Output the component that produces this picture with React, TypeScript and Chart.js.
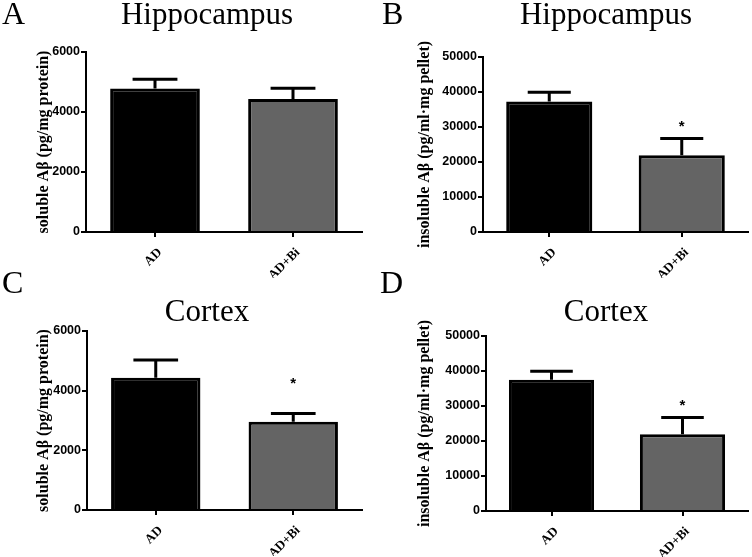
import React, { useEffect, useRef } from "react";
import { Chart, registerables } from "chart.js";

Chart.register(...registerables);

const categories = ["AD", "AD+Bi"];

const hippoSoluble = [4780, 4430];
const hippoSolubleErr = [310, 365];
const hippoSolubleStar: (number | null)[] = [null, null];

const hippoInsoluble = [37300, 21900];
const hippoInsolubleErr = [2600, 4850];
const hippoInsolubleStar: (number | null)[] = [null, 31300];

const cortexSoluble = [4430, 2955];
const cortexSolubleErr = [600, 280];
const cortexSolubleStar: (number | null)[] = [null, 4350];

const cortexInsoluble = [37500, 21900];
const cortexInsolubleErr = [2400, 4850];
const cortexInsolubleStar: (number | null)[] = [null, 31100];

const solubleTicks = [0, 2000, 4000, 6000];
const insolubleTicks = [0, 10000, 20000, 30000, 40000, 50000];

const barColors = ["#000000", "#646464"];

const CW = 376;
const CH = 290;
const XH = 46;

type Panel = {
  letter: string;
  title: string;
  yLabel: string;
  values: number[];
  errs: number[];
  stars: (number | null)[];
  ticks: number[];
  ox: number;
  oy: number;
  L: number;
  R: number;
  T: number;
  B: number;
  yW: number;
  titleX: number;
  titleY: number;
  letterX: number;
  letterY: number;
};

const panels: Panel[] = [
  {
    letter: "A", title: "Hippocampus", yLabel: "soluble A\u03b2 (pg/mg protein)",
    values: hippoSoluble, errs: hippoSolubleErr, stars: hippoSolubleStar, ticks: solubleTicks,
    ox: 0, oy: 0, L: 86, R: 362, T: 52, B: 232, yW: 52,
    titleX: 207, titleY: 24, letterX: 2, letterY: 24,
  },
  {
    letter: "B", title: "Hippocampus", yLabel: "insoluble A\u03b2 (pg/ml\u00b7mg pellet)",
    values: hippoInsoluble, errs: hippoInsolubleErr, stars: hippoInsolubleStar, ticks: insolubleTicks,
    ox: 376, oy: 0, L: 483, R: 748, T: 57, B: 232, yW: 68,
    titleX: 606, titleY: 24, letterX: 382, letterY: 24,
  },
  {
    letter: "C", title: "Cortex", yLabel: "soluble A\u03b2 (pg/mg protein)",
    values: cortexSoluble, errs: cortexSolubleErr, stars: cortexSolubleStar, ticks: solubleTicks,
    ox: 0, oy: 267, L: 87, R: 362, T: 331, B: 510, yW: 53,
    titleX: 207, titleY: 321, letterX: 2, letterY: 293,
  },
  {
    letter: "D", title: "Cortex", yLabel: "insoluble A\u03b2 (pg/ml\u00b7mg pellet)",
    values: cortexInsoluble, errs: cortexInsolubleErr, stars: cortexInsolubleStar, ticks: insolubleTicks,
    ox: 376, oy: 267, L: 486, R: 748, T: 336, B: 511, yW: 71,
    titleX: 606, titleY: 321, letterX: 380, letterY: 293,
  },
];

function PanelChart({ p }: { p: Panel }) {
  const ref = useRef<HTMLCanvasElement | null>(null);
  useEffect(() => {
    if (!ref.current) return;
    const decor = {
      id: "decor" + p.letter,
      afterDatasetsDraw(chart: any) {
        const ctx = chart.ctx;
        const meta = chart.getDatasetMeta(0);
        const ys = chart.scales.y;
        meta.data.forEach((bar: any, i: number) => {
          const v = p.values[i];
          const e = p.errs[i];
          const yTop = ys.getPixelForValue(v);
          const yErr = ys.getPixelForValue(v + e);
          const half = bar.width / 4;
          ctx.save();
          ctx.strokeStyle = "#000";
          ctx.lineWidth = 3;
          ctx.beginPath();
          ctx.moveTo(bar.x, yTop);
          ctx.lineTo(bar.x, yErr);
          ctx.moveTo(bar.x - half, yErr);
          ctx.lineTo(bar.x + half, yErr);
          ctx.stroke();
          const s = p.stars[i];
          if (s !== null && s !== undefined) {
            ctx.fillStyle = "#000";
            ctx.font = 'bold 15px "Liberation Sans"';
            ctx.textAlign = "center";
            ctx.textBaseline = "alphabetic";
            ctx.fillText("*", bar.x, ys.getPixelForValue(s) + 15 * 0.55);
          }
          ctx.restore();
        });
      },
      afterDraw(chart: any) {
        const ctx = chart.ctx;
        ctx.save();
        ctx.fillStyle = "#000";
        ctx.textBaseline = "alphabetic";
        ctx.font = '32px "Liberation Serif"';
        ctx.textAlign = "left";
        ctx.fillText(p.letter, p.letterX - p.ox, p.letterY - p.oy);
        ctx.font = '31px "Liberation Serif"';
        ctx.textAlign = "center";
        ctx.fillText(p.title, p.titleX - p.ox, p.titleY - p.oy);
        ctx.restore();
      },
    };
    const padLeft = p.L - p.ox - p.yW;
    const padRight = p.ox + CW - p.R;
    const padTop = p.T - p.oy;
    const padBottom = p.oy + CH - p.B - XH;
    const chart = new Chart(ref.current, {
      type: "bar",
      data: {
        labels: categories,
        datasets: [
          {
            data: p.values,
            backgroundColor: barColors,
            borderColor: "#000",
            borderWidth: 3,
            categoryPercentage: 1,
            barPercentage: 0.65,
          },
        ],
      },
      options: {
        responsive: false,
        animation: false,
        events: [],
        layout: { padding: { left: padLeft, right: padRight, top: padTop, bottom: padBottom } },
        plugins: {
          legend: { display: false },
          tooltip: { enabled: false },
          title: { display: false },
        },
        scales: {
          x: {
            offset: true,
            grid: {
              display: true,
              offset: false,
              drawOnChartArea: false,
              drawTicks: true,
              tickLength: 5,
              color: "#000",
              lineWidth: 2,
            },
            border: { display: true, color: "#000", width: 2 },
            ticks: {
              color: "#000",
              font: { family: "Liberation Serif", size: 13, weight: "bold" },
              minRotation: 45,
              maxRotation: 45,
              padding: 8,
              labelOffset: 5,
            },
            afterFit: (s: any) => {
              s.height = XH;
            },
          },
          y: {
            min: 0,
            max: p.ticks[p.ticks.length - 1],
            afterBuildTicks: (s: any) => {
              s.ticks = p.ticks.map((v) => ({ value: v }));
            },
            ticks: {
              color: "#000",
              font: { family: "Liberation Sans", size: 12.5, weight: "bold" },
              padding: 1,
              callback: (v: any) => String(v),
            },
            grid: {
              drawOnChartArea: false,
              drawTicks: true,
              tickLength: 5,
              color: "#000",
              lineWidth: 2,
            },
            border: { display: true, color: "#000", width: 2 },
            title: {
              display: true,
              text: p.yLabel,
              color: "#000",
              font: { family: "Liberation Serif", size: 16, weight: "bold" },
              padding: { top: 0, bottom: 0 },
            },
            afterFit: (s: any) => {
              s.width = p.yW;
            },
          },
        },
      },
      plugins: [decor],
    } as any);
    return () => chart.destroy();
  }, [p]);
  return (
    <canvas
      ref={ref}
      width={CW}
      height={CH}
      style={{ position: "absolute", left: p.ox, top: p.oy, width: CW, height: CH }}
    />
  );
}

export default function App() {
  return (
    <div
      style={{
        position: "fixed",
        left: 0,
        top: 0,
        width: 752,
        height: 557,
        background: "#fff",
        overflow: "hidden",
      }}
    >
      {panels.map((p) => (
        <PanelChart key={p.letter} p={p} />
      ))}
    </div>
  );
}
